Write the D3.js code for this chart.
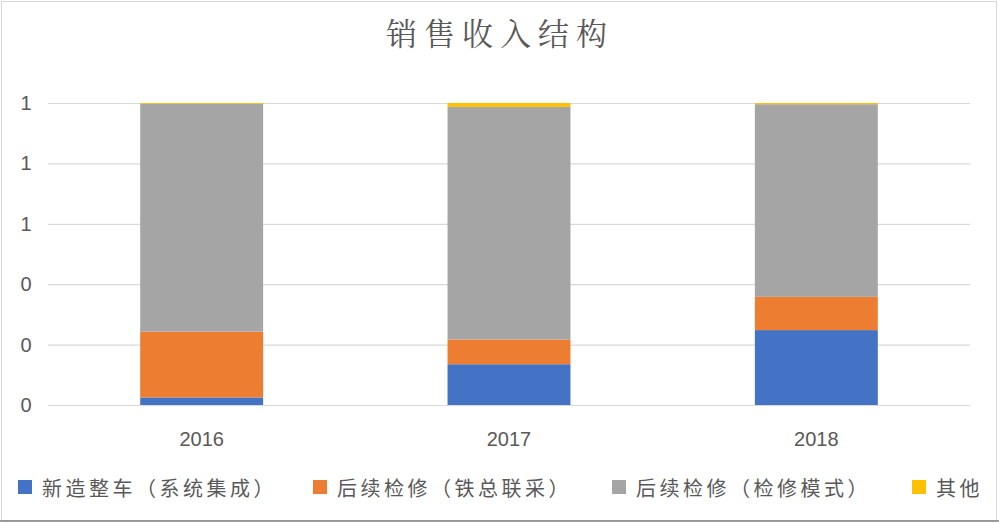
<!DOCTYPE html>
<html>
<head>
<meta charset="utf-8">
<script src="https://cdn.jsdelivr.net/npm/d3@7/dist/d3.min.js"></script>
<style>
html,body{margin:0;padding:0;background:#fff;}
svg{display:block;}
</style>
</head>
<body>
<svg id="chart" width="999" height="524"></svg>
<script>
const title = "销售收入结构";
const years = ["2016", "2017", "2018"];
const seriesNames = ["新造整车（系统集成）", "后续检修（铁总联采）", "后续检修（检修模式）", "其他"];
const newCars = [0.025, 0.135, 0.248];
const repairJoint = [0.218, 0.082, 0.110];
const repairMode = [0.754, 0.770, 0.638];
const others = [0.003, 0.013, 0.004];
const yTicks = [0, 0.2, 0.4, 0.6, 0.8, 1.0];
const colors = ["#4472C4", "#ED7D31", "#A5A5A5", "#FFC000"];

const svg = d3.select("#chart");
const W = 999, H = 524;
const font = "'Noto Sans CJK SC', 'Noto Sans', sans-serif";

// frame
svg.append("rect").attr("x", 1.5).attr("y", 1.5).attr("width", 995).attr("height", 519)
  .attr("fill", "#fff").attr("stroke", "#d9d9d9").attr("stroke-width", 1);
svg.append("line").attr("x1", 0).attr("x2", W).attr("y1", 521).attr("y2", 521)
  .attr("stroke", "#7f7f7f").attr("stroke-width", 1.5);

const x = d3.scaleBand().domain(years).range([48, 970]).paddingInner(0.6).paddingOuter(0.3);
const y = d3.scaleLinear().domain([0, 1]).range([405, 103]);

// gridlines
const yAxis = d3.axisLeft(y).tickValues(yTicks).tickSize(-(970 - 48)).tickFormat(d3.format(".0f"));
const gy = svg.append("g").attr("transform", "translate(48,0)").call(yAxis);
gy.select(".domain").remove();
gy.selectAll(".tick line").attr("stroke", "#d9d9d9").attr("stroke-width", 1.2);
gy.selectAll(".tick text").attr("x", -22).attr("text-anchor", "middle")
  .attr("fill", "#595959").style("font-family", "Arial, 'Liberation Sans', sans-serif").style("font-size", "20px");

// stacked data
const rows = years.map((yr, i) => ({year: yr, s0: newCars[i], s1: repairJoint[i], s2: repairMode[i], s3: others[i]}));
const stack = d3.stack().keys(["s0", "s1", "s2", "s3"]);
const stacked = stack(rows);

svg.append("g").selectAll("g").data(stacked).join("g")
  .attr("fill", (d, i) => colors[i])
  .selectAll("rect").data(d => d).join("rect")
  .attr("x", d => x(d.data.year))
  .attr("width", x.bandwidth())
  .attr("y", d => y(d[1]))
  .attr("height", d => Math.max(0, y(d[0]) - y(d[1])));

// x axis labels
const xAxis = d3.axisBottom(x).tickSize(0);
const gx = svg.append("g").attr("transform", "translate(0,405)").call(xAxis);
gx.select(".domain").remove();
gx.selectAll(".tick text").attr("dy", "0").attr("y", 41)
  .attr("fill", "#595959").style("font-family", "Arial, 'Liberation Sans', sans-serif").style("font-size", "20px");

// title
svg.append("text").attr("x", 500).attr("y", 45).attr("text-anchor", "middle")
  .attr("fill", "#595959").style("font-family", "'Noto Serif CJK SC', " + font)
  .style("font-size", "31px").style("letter-spacing", "7px").text(title);

// legend
const legendX = [18, 313, 612, 912];
const lg = svg.append("g");
seriesNames.forEach((name, i) => {
  lg.append("rect").attr("x", legendX[i]).attr("y", 480).attr("width", 14).attr("height", 14).attr("fill", colors[i]);
  lg.append("text").attr("x", legendX[i] + 24).attr("y", 496)
    .attr("fill", "#595959").style("font-family", font).style("font-size", "20px")
    .style("letter-spacing", "3.5px").text(name);
});
</script>
</body>
</html>
